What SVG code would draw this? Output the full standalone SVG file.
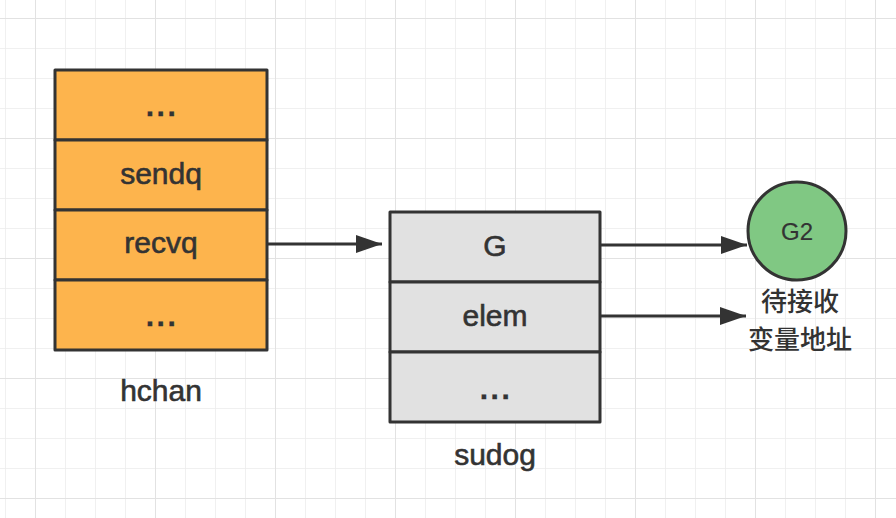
<svg xmlns="http://www.w3.org/2000/svg" width="896" height="518" viewBox="0 0 896 518">
<defs>
<pattern id="minor" x="5" y="18" width="30" height="30" patternUnits="userSpaceOnUse">
<path d="M0 0H30M0 0V30" fill="none" stroke="#ececec" stroke-width="1.5"/>
</pattern>
<pattern id="major" x="35" y="18" width="120" height="120" patternUnits="userSpaceOnUse">
<path d="M0 0H120M0 0V120" fill="none" stroke="#e2e2e2" stroke-width="2"/>
</pattern>
<marker id="arrow" markerUnits="userSpaceOnUse" markerWidth="28" markerHeight="20" refX="26" refY="9" orient="auto">
<path d="M0 0L26 9L0 18Z" fill="#333333"/>
</marker>
</defs>
<style>
.box{stroke:#333333;stroke-width:3;stroke-linejoin:round}
.orange{fill:#FDB44D}
.gray{fill:#E1E1E1}
.t{font-family:"Liberation Sans",Arial,sans-serif;font-size:30px;fill:#333333;stroke:#333333;stroke-width:0.6;text-anchor:middle}
.dots{font-weight:bold;stroke-width:0.3;letter-spacing:2.5px}
.cjk{font-family:"Noto Sans CJK SC","Liberation Sans",sans-serif;font-size:26px;font-weight:500;fill:#333333;text-anchor:middle}
.conn{stroke:#333333;stroke-width:3;fill:none}
</style>
<rect width="896" height="518" fill="#ffffff"/>
<rect width="896" height="518" fill="url(#minor)"/>
<rect width="896" height="518" fill="url(#major)"/>
<g id="hchan">
<rect class="box orange" x="55" y="70" width="212" height="70"/>
<rect class="box orange" x="55" y="140" width="212" height="70"/>
<rect class="box orange" x="55" y="210" width="212" height="70"/>
<rect class="box orange" x="55" y="280" width="212" height="70"/>
<text class="t dots" x="162" y="116">...</text>
<text class="t" x="161" y="184">sendq</text>
<text class="t" x="161" y="253">recvq</text>
<text class="t dots" x="162" y="326">...</text>
<text class="t" x="161" y="401">hchan</text>
</g>
<g id="sudog">
<rect class="box gray" x="390" y="212" width="210" height="70"/>
<rect class="box gray" x="390" y="282" width="210" height="70"/>
<rect class="box gray" x="390" y="352" width="210" height="70"/>
<text class="t" x="495" y="256">G</text>
<text class="t" x="495" y="326">elem</text>
<text class="t dots" x="496" y="399">...</text>
<text class="t" x="495" y="465">sudog</text>
</g>
<g id="g2">
<circle cx="797" cy="231" r="49" fill="#80C883" stroke="#333333" stroke-width="3"/>
<text class="t" x="797" y="240" style="font-size:24px;stroke-width:0.2">G2</text>
</g>
<g id="label">
<text class="cjk" x="800" y="311">待接收</text>
<text class="cjk" x="800" y="349">变量地址</text>
</g>
<g id="connectors">
<line class="conn" x1="268" y1="244" x2="382" y2="244" marker-end="url(#arrow)"/>
<line class="conn" x1="601" y1="245" x2="747" y2="245" marker-end="url(#arrow)"/>
<line class="conn" x1="601" y1="316" x2="746" y2="316" marker-end="url(#arrow)"/>
</g>
</svg>
